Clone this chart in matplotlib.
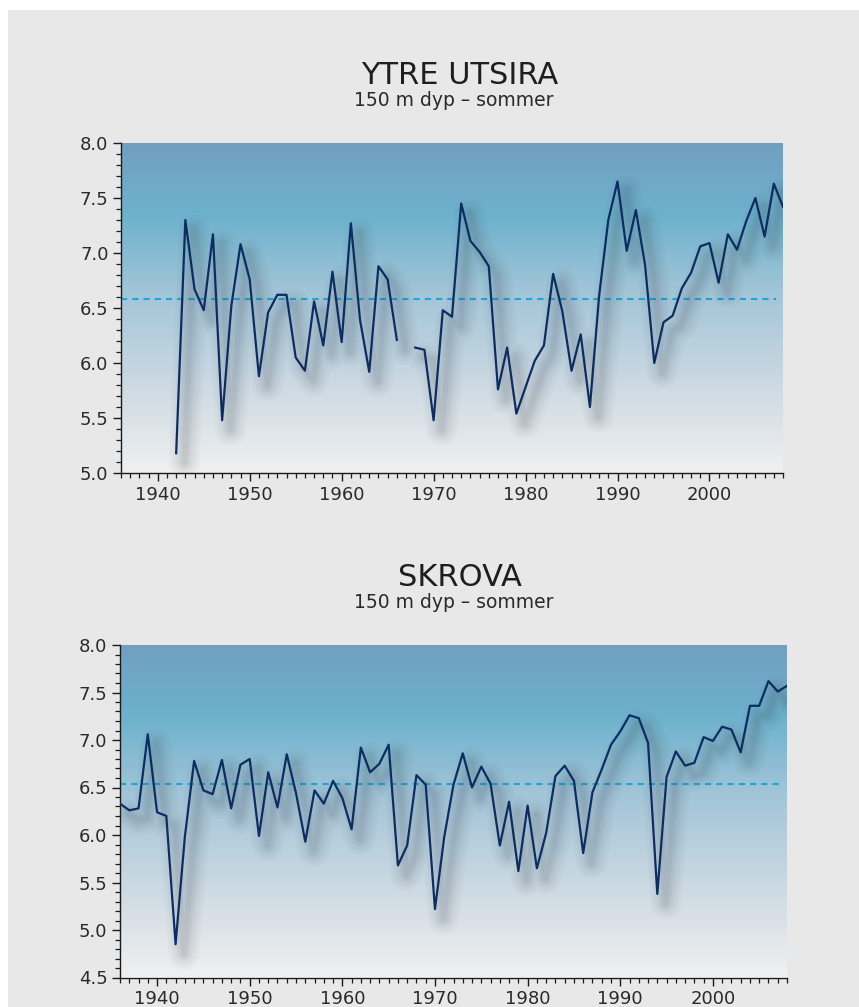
import numpy as np
import matplotlib
matplotlib.use("Agg")
import matplotlib.pyplot as plt
from matplotlib.colors import LinearSegmentedColormap
from matplotlib.ticker import MultipleLocator, FormatStrFormatter
import matplotlib.patheffects as pe

plt.rcParams['font.family'] = ['DejaVu Sans']

# ---- data -------------------------------------------------------------
utsira_years = list(range(1942, 2009))
utsira_temp = [
    5.18, 7.30, 6.67, 6.48, 7.17, 5.48, 6.52, 7.08, 6.76, 5.88,   # 1942-1951
    6.46, 6.62, 6.62, 6.05, 5.93, 6.56, 6.16, 6.83, 6.19, 7.27,   # 1952-1961
    6.39, 5.92, 6.88, 6.76, 6.21, np.nan, 6.14, 6.12, 5.48, 6.48, # 1962-1971
    6.42, 7.45, 7.11, 7.01, 6.88, 5.76, 6.14, 5.54, 5.78, 6.02,   # 1972-1981
    6.16, 6.81, 6.47, 5.93, 6.26, 5.60, 6.61, 7.30, 7.65, 7.02,   # 1982-1991
    7.39, 6.89, 6.00, 6.37, 6.43, 6.68, 6.82, 7.06, 7.09, 6.73,   # 1992-2001
    7.17, 7.03, 7.29, 7.50, 7.15, 7.63, 7.42,                     # 2002-2008
]
utsira_mean = 6.58

skrova_years = list(range(1936, 2009))
skrova_temp = [
    6.33, 6.26, 6.28, 7.06, 6.24, 6.20, 4.85, 5.98, 6.78, 6.47,   # 1936-1945
    6.43, 6.79, 6.28, 6.74, 6.80, 5.99, 6.66, 6.29, 6.85, 6.44,   # 1946-1955
    5.93, 6.47, 6.33, 6.57, 6.39, 6.06, 6.92, 6.66, 6.75, 6.95,   # 1956-1965
    5.68, 5.89, 6.63, 6.53, 5.22, 5.98, 6.53, 6.86, 6.50, 6.72,   # 1966-1975
    6.54, 5.89, 6.35, 5.62, 6.31, 5.65, 6.02, 6.62, 6.73, 6.57,   # 1976-1985
    5.81, 6.45, 6.69, 6.95, 7.09, 7.26, 7.23, 6.97, 5.38, 6.61,   # 1986-1995
    6.88, 6.73, 6.76, 7.03, 6.99, 7.14, 7.11, 6.87, 7.36, 7.36,   # 1996-2005
    7.62, 7.51, 7.57,                                             # 2006-2008
]
skrova_mean = 6.54

subtitle = "150 m dyp – sommer"
x_ticks = [1940, 1950, 1960, 1970, 1980, 1990, 2000]

# ---- styling ----------------------------------------------------------
BG = '#e8e8e8'
LINE = '#0c2d62'
MEAN = '#1aa8d8'
TXT = '#2a2a2a'

bg_cmap = LinearSegmentedColormap.from_list('sea', [
    (0.00, '#729fc0'),
    (0.22, '#6db2cd'),
    (0.26, '#77b5cf'),
    (0.45, '#a2c5d8'),
    (0.65, '#c0d3df'),
    (0.85, '#dce3e8'),
    (1.00, '#f0f0f1'),
])

# soft drop shadow: stacked, offset strokes with round joins
shadow = [pe.Stroke(offset=(6, -7), linewidth=w, foreground='#3a4450', alpha=a,
                    joinstyle='round', capstyle='round')
          for w, a in [(22, 0.03), (17, 0.035), (12, 0.045), (8, 0.055), (4, 0.06)]]
shadow.append(pe.Normal())


def draw_panel(ax, years, temps, mean, ylim, title):
    x0, x1 = 1936, 2008
    grad = np.linspace(0, 1, 400).reshape(-1, 1)
    ax.imshow(grad, cmap=bg_cmap, aspect='auto', extent=[x0, x1, ylim[0], ylim[1]],
              origin='upper', zorder=0, interpolation='bilinear')
    ax.set_xlim(x0, x1)
    ax.set_ylim(*ylim)

    ax.axhline(mean, xmin=0, xmax=0.99, color=MEAN, lw=1.5, dashes=(3, 2.4), zorder=2)
    ax.plot(years, temps, color=LINE, lw=1.6, zorder=3, path_effects=shadow,
            solid_joinstyle='round')

    for s in ['top', 'right']:
        ax.spines[s].set_visible(False)
    for s in ['left', 'bottom']:
        ax.spines[s].set_color('#1a1a1a')
        ax.spines[s].set_linewidth(1.0)

    ax.set_xticks(x_ticks)
    ax.xaxis.set_minor_locator(MultipleLocator(1))
    ax.yaxis.set_major_locator(MultipleLocator(0.5))
    ax.yaxis.set_minor_locator(MultipleLocator(0.1))
    ax.yaxis.set_major_formatter(FormatStrFormatter('%.1f'))
    ax.tick_params(which='major', direction='out', length=6, width=1.0,
                   color='#1a1a1a', labelsize=13, labelcolor=TXT, pad=3)
    ax.tick_params(which='minor', direction='out', length=3.5, width=0.9,
                   color='#1a1a1a')

    fig = ax.figure
    top = ax.get_position().y1
    cx = 460 / 859
    fig.text(cx, top + 0.0585, title, ha='center', va='baseline', fontsize=22,
             color='#1e1e1e')
    fig.text(cx - 0.007, top + 0.0365, subtitle, ha='center', va='baseline',
             fontsize=13.5, color='#2a2a2a')


W, H = 859, 1007
fig = plt.figure(figsize=(W / 100, H / 100), dpi=100, facecolor='white')
fig.patches.append(plt.Rectangle((8 / W, 0), 1, 1 - 10 / H, transform=fig.transFigure,
                                 facecolor=BG, edgecolor='none', zorder=-10))

ax1 = fig.add_axes([121 / W, 1 - 473 / H, 662 / W, 330 / H])
ax2 = fig.add_axes([120 / W, 1 - 977.5 / H, 667 / W, 332.5 / H])

draw_panel(ax1, utsira_years, utsira_temp, utsira_mean, (5.0, 8.0), "YTRE UTSIRA")
draw_panel(ax2, skrova_years, skrova_temp, skrova_mean, (4.5, 8.0), "SKROVA")

fig.savefig('out.png', dpi=100, facecolor=fig.get_facecolor())
